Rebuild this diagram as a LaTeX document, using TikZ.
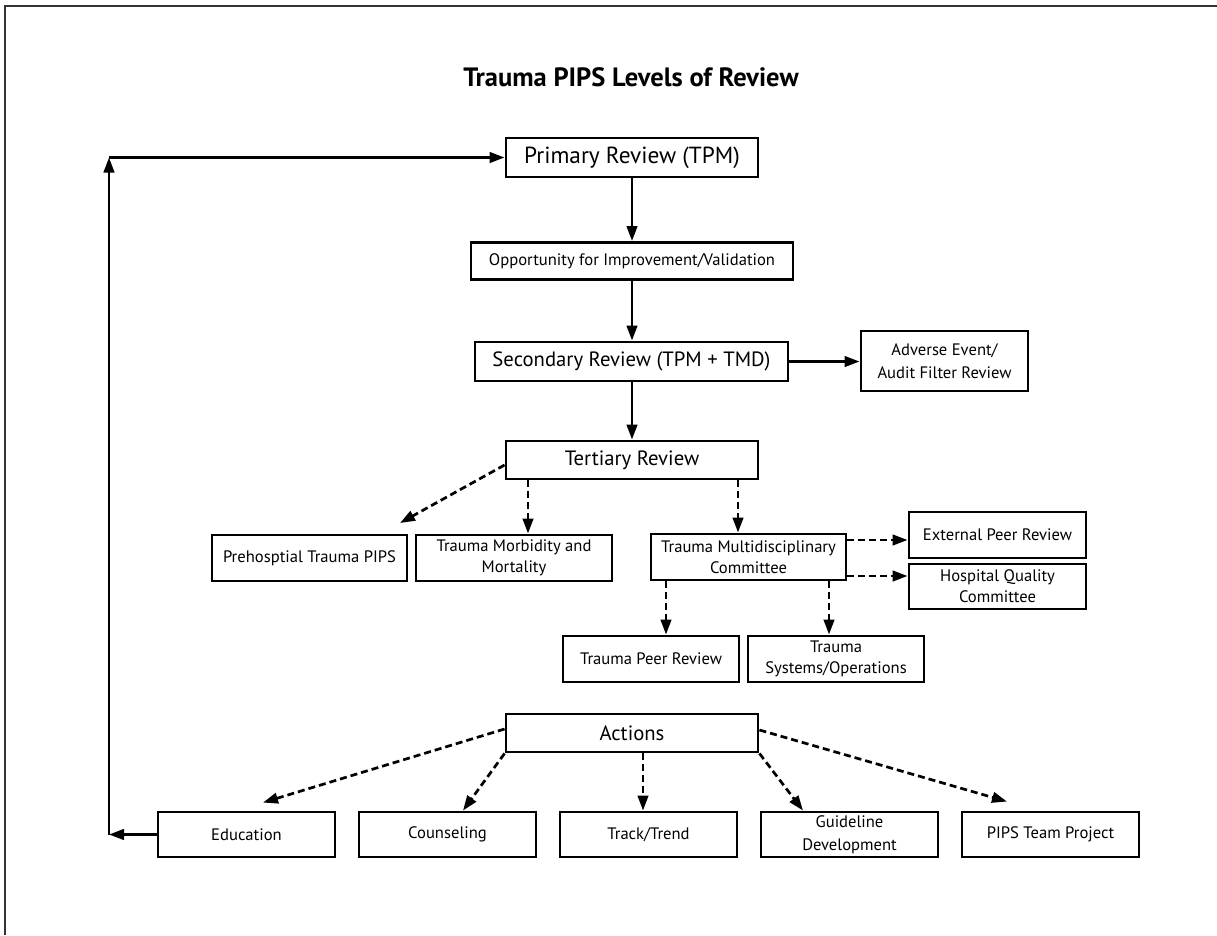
\documentclass[tikz,border=0pt]{standalone}
\usepackage{fontspec}
\setmainfont{PT Sans}
\usetikzlibrary{arrows.meta,calc}
\begin{document}
\begin{tikzpicture}[x=1pt,y=-1pt,
  box/.style={draw, line width=2.9pt, inner sep=0pt, align=center},
  big/.style={font=\fontsize{23.3}{27}\selectfont},
  mid/.style={font=\fontsize{20.7}{24}\selectfont},
  sml/.style={font=\fontsize{16.6}{21}\selectfont},
  smlw/.style={font=\fontsize{16.6}{23}\selectfont},
  arr/.style={line width=2.7pt, -{Triangle[length=15pt,width=10.5pt]}},
  darr/.style={arr, dash pattern=on 7pt off 4pt},
  frameline/.style={line width=1.5pt, draw=black!80}
]
\useasboundingbox (0,0) rectangle (1217,935);
\draw[frameline] (5,935) -- (5,6) -- (1217,6);

\node[font=\bfseries\fontsize{26.5}{30}\selectfont] (title) at (631,77) {Trauma PIPS Levels of Review};

\node[box,big,minimum width=252pt,minimum height=39pt] (prim) at (632,157.5) {Primary Review (TPM)};
\node[box,sml,minimum width=322pt,minimum height=37pt] (opp) at (632,261) {Opportunity for Improvement/Validation};
\node[box,mid,minimum width=313pt,minimum height=39pt] (sec) at (631.5,361.5) {Secondary Review (TPM + TMD)};
\node[box,smlw,minimum width=167pt,minimum height=60pt] (adv) at (944.5,361) {Adverse Event/\\Audit Filter Review};
\node[box,mid,minimum width=252pt,minimum height=38pt] (ter) at (632,460) {Tertiary Review};

\node[box,sml,minimum width=195pt,minimum height=46pt] (pre) at (309.5,558) {Prehosptial Trauma PIPS};
\node[box,sml,minimum width=196pt,minimum height=46pt] (mm) at (514,558) {Trauma Morbidity and\\Mortality};
\node[box,sml,minimum width=195pt,minimum height=46pt] (tmc) at (748.5,557) {Trauma Multidisciplinary\\Committee};
\node[box,sml,minimum width=177pt,minimum height=46pt] (ext) at (997.5,535) {External Peer Review};
\node[box,sml,minimum width=177pt,minimum height=45pt] (hqc) at (997.5,586.5) {Hospital Quality\\Committee};
\node[box,sml,minimum width=176pt,minimum height=46pt] (tpr) at (651,659) {Trauma Peer Review};
\node[box,sml,minimum width=176pt,minimum height=46pt] (tso) at (836,659) {Trauma\\Systems/Operations};

\node[box,mid,minimum width=252pt,minimum height=38pt] (act) at (632,733) {Actions};
\node[box,sml,minimum width=177pt,minimum height=45pt] (edu) at (246.5,834.5) {Education};
\node[box,sml,minimum width=177pt,minimum height=45pt] (cou) at (447.5,834.5) {Counseling};
\node[box,sml,minimum width=177pt,minimum height=45pt] (trk) at (648.5,834.5) {Track/Trend};
\node[box,smlw,minimum width=177pt,minimum height=45pt] (gui) at (849.5,834.5) {Guideline\\Development};
\node[box,sml,minimum width=177pt,minimum height=45pt] (pip) at (1050.5,834.5) {PIPS Team Project};

% solid arrows
\draw[arr] (prim.south) -- (opp.north);
\draw[arr] (opp.south) -- (sec.north -| opp.south);
\draw[arr] (sec.south -| ter.north) -- (ter.north);
\draw[arr] (sec.east) -- (sec.east -| adv.west);

% feedback loop
\coordinate (lb) at (109,834.5);
\coordinate (lt) at (109,157.5);
\draw[arr] (edu.west) -- (lb);
\draw[arr] (lb) -- (lt);
\draw[arr] (lt) -- (prim.west);

% tertiary branches
\coordinate (preTip) at (400,523);
\draw[darr] ([yshift=-5pt]ter.west) -- (preTip);
\draw[darr] ([xshift=-104pt]ter.south) -- ([xshift=14pt]mm.north);
\draw[darr] ([xshift=106pt]ter.south) -- ([xshift=-10.5pt]tmc.north);

% committee branches
\coordinate (tmcA) at ([yshift=17pt]tmc.east);
\coordinate (tmcB) at ([yshift=-19pt]tmc.east);
\coordinate (tmcC) at ([xshift=-82.5pt]tmc.south);
\coordinate (tmcD) at ([xshift=80.5pt]tmc.south);
\draw[darr] (tmcA) -- (tmcA -| ext.west);
\draw[darr] (tmcB) -- (tmcB -| hqc.west);
\draw[darr] (tmcC) -- (tmcC |- tpr.north);
\draw[darr] (tmcD) -- (tmcD |- tso.north);

% actions branches
\draw[darr] ([yshift=4pt]act.west) -- ([xshift=16.5pt,yshift=8pt]edu.north);
\draw[darr] (act.south west) -- ([xshift=15.5pt]cou.north);
\draw[darr] ([xshift=11pt]act.south) -- ([xshift=-5.5pt]trk.north);
\draw[darr] (act.south east) -- ([xshift=-46.5pt]gui.north);
\draw[darr] ([yshift=3pt]act.east) -- ([xshift=-43.5pt,yshift=9pt]pip.north);
\end{tikzpicture}
\end{document}
